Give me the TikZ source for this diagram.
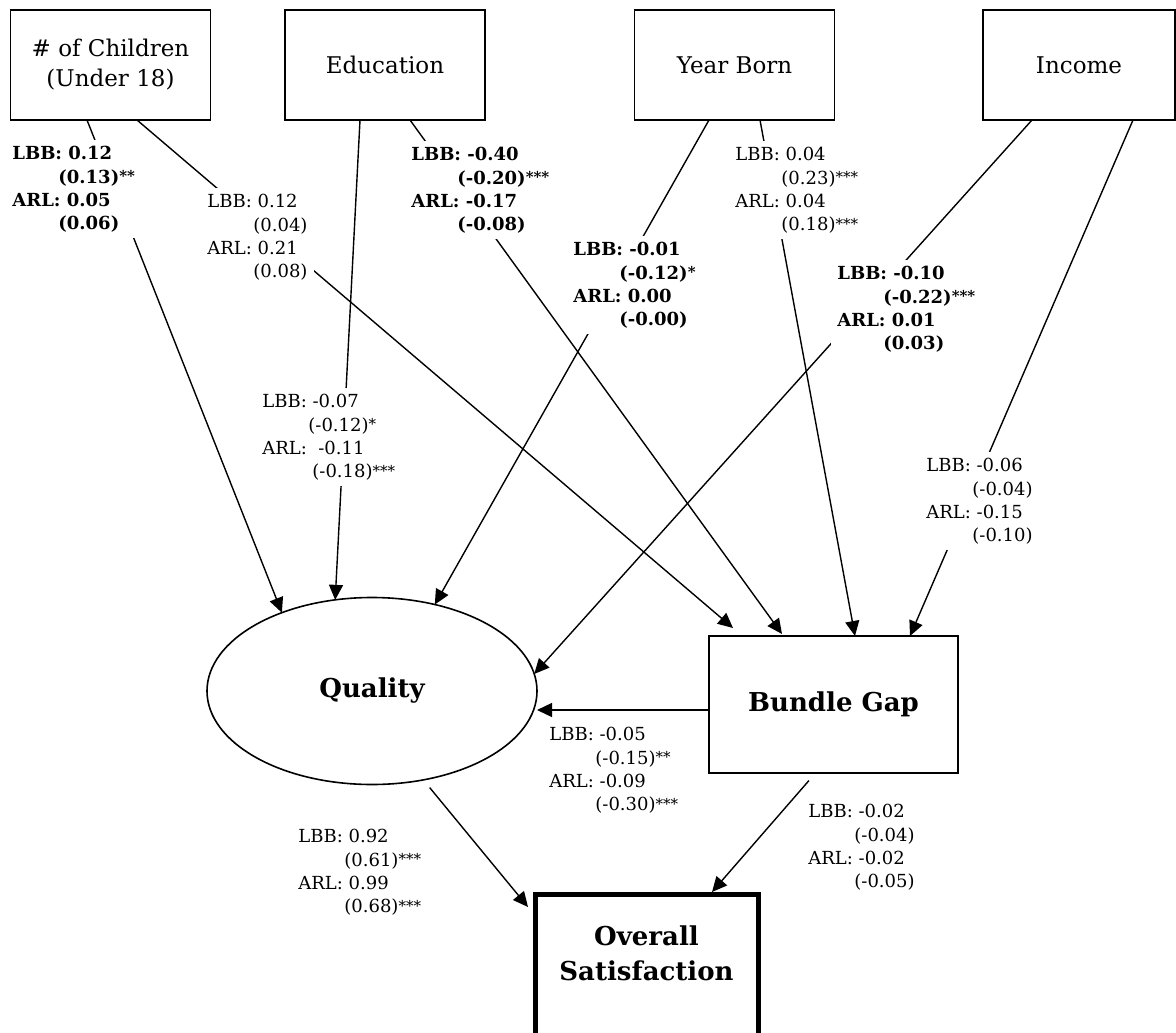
\documentclass[tikz,border=0pt]{standalone}
\usepackage{fontspec}
\setmainfont{DejaVu Serif}
\usetikzlibrary{arrows.meta,shapes.geometric}

\tikzset{
  varbox/.style={draw, line width=0.8pt, minimum width=100pt, minimum height=55pt,
    inner sep=0pt, outer sep=0pt, align=center, font=\fontsize{11.5}{15}\selectfont},
  latent/.style={draw, ellipse, line width=0.8pt, minimum width=165pt, minimum height=93.5pt,
    inner sep=0pt, outer sep=0pt, font=\bfseries\fontsize{13}{16}\selectfont},
  gapbox/.style={draw, line width=0.8pt, minimum width=124.5pt, minimum height=68.5pt,
    inner sep=0pt, outer sep=0pt, font=\bfseries\fontsize{13}{16}\selectfont},
  outbox/.style={draw, line width=2.5pt, anchor=north, minimum width=111.5pt, inner xsep=0pt,
    inner ysep=16pt, outer sep=0pt, text depth=90pt, align=center,
    font=\bfseries\fontsize{13}{17.5}\selectfont},
  link/.style={-{Triangle[length=7.5pt,width=7pt]}, line width=0.7pt},
  coef/.style={fill=white, inner sep=3pt, anchor=north west, align=left,
    font=\fontsize{9}{11.65}\selectfont},
  coefb/.style={coef, font=\bfseries\fontsize{9}{11.65}\selectfont}
}
\newcommand{\coefind}{\hspace*{23pt}}
\newcommand{\sig}[1]{{\fontsize{7.5}{9}\selectfont\raisebox{0.6pt}{#1}}}

\begin{document}
\begin{tikzpicture}[x=0.5pt, y=-0.5pt]
        \useasboundingbox (0,0) rectangle (1176,1032);

        % Exogenous variables (top row)
        \node[varbox] (child) at (110.5,65) {\# of Children\\(Under 18)};
        \node[varbox] (edu) at (385,65) {Education};
        \node[varbox] (born) at (734.5,65) {Year Born};
        \node[varbox, minimum width=96pt] (income) at (1079,65) {Income};

        % Mediators and outcome
        \node[latent] (quality) at (372,691) {Quality};
        \node[gapbox] (bundle) at (833.5,704.5) {Bundle Gap};
        \node[outbox] (overall) at (646.5,894) {Overall\\Satisfaction};

        % Paths into Quality
        \draw[link] ([xshift=-11.75pt]child.south) -- (quality.139);
        \draw[link] ([xshift=-12.5pt]edu.south) -- (quality.112);
        \draw[link] ([xshift=-12.75pt]born.south) -- (quality.54);
        \draw[link] ([xshift=-23.5pt]income.south) -- (quality.6);

        % Paths into Bundle Gap
        \draw[link] ([xshift=13.25pt]child.south) -- ([xshift=12pt,yshift=4pt]bundle.north west);
        \draw[link] ([xshift=12.5pt]edu.south) -- ([xshift=36.5pt,yshift=1pt]bundle.north west);
        \draw[link] ([xshift=12.75pt]born.south) -- ([xshift=73pt]bundle.north west);
        \draw[link] ([xshift=27pt]income.south) -- ([xshift=100.5pt]bundle.north west);

        % Bundle Gap -> Quality
        \draw[link] ([yshift=-2.75pt]bundle.west) -- ([yshift=-2.75pt]bundle.west -| quality.east);

        % Paths into Overall Satisfaction
        \draw[link, shorten <=5pt] (quality.-60) -- ([xshift=-3.5pt,yshift=-6.5pt]overall.north west);
        \draw[link, shorten <=5pt] ([xshift=-9pt]bundle.south) -- ([xshift=32.75pt,yshift=1pt]overall.north);

        % Coefficients (bold = significant for LBB)
        \node[coefb] (cq) at (6,140) {LBB: 0.12\\\coefind(0.13)\sig{**}\\ARL: 0.05\\\coefind(0.06)};
        \node[coef] (cb) at (201,188) {LBB: 0.12\\\coefind(0.04)\\ARL: 0.21\\\coefind(0.08)};
        \node[coefb] (eb) at (405,141) {LBB: -0.40\\\coefind(-0.20)\sig{***}\\ARL: -0.17\\\coefind(-0.08)};
        \node[coef] (eq) at (256,388) {LBB: -0.07\\\coefind(-0.12)\sig{*}\\ARL:~ -0.11\\\coefind\hspace*{2pt}(-0.18)\sig{***}};
        \node[coefb] (yq) at (567,236) {LBB: -0.01\\\coefind(-0.12)\sig{*}\\ARL: 0.00\\\coefind(-0.00)};
        \node[coef] (yb) at (729,141) {LBB: 0.04\\\coefind(0.23)\sig{***}\\ARL: 0.04\\\coefind(0.18)\sig{***}};
        \node[coefb] (iq) at (831,260) {LBB: -0.10\\\coefind(-0.22)\sig{***}\\ARL: 0.01\\\coefind(0.03)};
        \node[coef] (ib) at (920,452) {LBB: -0.06\\\coefind(-0.04)\\ARL: -0.15\\\coefind(-0.10)};
        \node[coef] (bq) at (543,721) {LBB: -0.05\\\coefind(-0.15)\sig{**}\\ARL: -0.09\\\coefind(-0.30)\sig{***}};
        \node[coef] (qo) at (292,823) {LBB: 0.92\\\coefind(0.61)\sig{***}\\ARL: 0.99\\\coefind(0.68)\sig{***}};
        \node[coef] (bo) at (802,798) {LBB: -0.02\\\coefind(-0.04)\\ARL: -0.02\\\coefind(-0.05)};
    \end{tikzpicture}
\end{document}
